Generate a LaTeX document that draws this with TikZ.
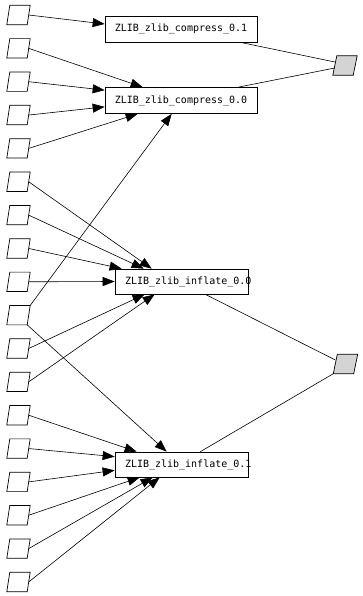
\documentclass[tikz,border=0pt]{standalone}
\usepackage{fontspec}
\newfontfamily\gvmono{DejaVu Sans Mono}
\usetikzlibrary{arrows.meta}
\tikzset{
  leaf/.style={rectangle, inner sep=0pt, minimum width=23pt, minimum height=19pt},
  sink/.style={rectangle, inner sep=0pt, minimum width=24pt, minimum height=19pt},
  paraline/.style={draw=black, line width=0.7pt},
  sinkline/.style={draw=black, fill=black!17, line width=0.7pt},
  cbox/.style={draw=black, line width=0.7pt, rectangle, inner sep=0pt, minimum width=152pt, minimum height=26pt, font=\gvmono\fontsize{10}{12}\selectfont},
  ibox/.style={draw=black, line width=0.7pt, rectangle, inner xsep=10pt, inner ysep=0pt, minimum height=25pt, font=\gvmono\fontsize{10}{12}\selectfont},
  arr/.style={line width=0.6pt, -{Triangle[length=12pt,width=9pt]}},
  plain/.style={line width=0.6pt},
}
\begin{document}
\begin{tikzpicture}[x=1pt,y=-1pt]
\useasboundingbox (0,0) rectangle (362,596);
% left leaves
\foreach \i in {0,...,17} {
  \pgfmathsetmacro\yy{15+33.35*\i}
  \node[leaf] (L\i) at (18.5,\yy) {};
  \path[paraline] ([xshift=3pt]L\i.north west) -- (L\i.north east) -- ([xshift=-3pt]L\i.south east) -- (L\i.south west) -- cycle;
}
% sinks
\node[sink] (R1) at (345,65.5) {};
\node[sink] (R2) at (345.5,364) {};
\foreach \r in {R1,R2} {
  \path[sinkline] ([xshift=4pt]\r.north west) -- (\r.north east) -- ([xshift=-4pt]\r.south east) -- (\r.south west) -- cycle;
}
% boxes
\node[cbox] (c01) at (181,29) {ZLIB\_zlib\_compress\_0.1};
\node[cbox] (c00) at (181,100.5) {ZLIB\_zlib\_compress\_0.0};
\node[ibox] (i00) at (181.5,281.5) {\makebox[113pt][l]{ZLIB\_zlib\_inflate\_0.0}};
\node[ibox] (i01) at (181.5,464.5) {\makebox[113pt][l]{ZLIB\_zlib\_inflate\_0.1}};
% edges into compress
\draw[arr] ([xshift=-1.5pt]L0.east) -- ([yshift=5pt]c01.west);
\draw[arr] ([xshift=-1.5pt]L1.east) -- ([xshift=38pt]c00.north west);
\draw[arr] ([xshift=-1.5pt]L2.east) -- ([yshift=-3pt]c00.north west);
\draw[arr] ([xshift=-1.5pt]L3.east) -- ([yshift=7pt]c00.south west);
\draw[arr] ([xshift=-1.5pt]L4.east) -- ([xshift=33pt]c00.south west);
\draw[arr] (L9.north east) -- ([xshift=67pt]c00.south west);
% edges into inflate_0.0
\draw[arr] ([xshift=-1.5pt]L5.east) -- ([xshift=37pt]i00.north west);
\draw[arr] ([xshift=-1.5pt]L6.east) -- ([xshift=29pt]i00.north west);
\draw[arr] ([xshift=-1.5pt]L7.east) -- ([xshift=7pt]i00.north west);
\draw[arr] ([xshift=-1.5pt]L8.east) -- (i00.west);
\draw[arr] ([xshift=-1.5pt]L10.east) -- ([xshift=30pt]i00.south west);
\draw[arr] ([xshift=-1.5pt]L11.east) -- ([xshift=40pt]i00.south west);
% edges into inflate_0.1
\draw[arr] ([xshift=-3pt]L9.south east) -- ([xshift=52pt]i01.north west);
\draw[arr] ([xshift=-1.5pt]L12.east) -- ([xshift=22pt]i01.north west);
\draw[arr] ([xshift=-1.5pt]L13.east) -- ([yshift=-5pt]i01.north west);
\draw[arr] ([xshift=-1.5pt]L14.east) -- ([yshift=7pt]i01.south west);
\draw[arr] ([xshift=-1.5pt]L15.east) -- ([xshift=25pt]i01.south west);
\draw[arr] ([xshift=-1.5pt]L16.east) -- ([xshift=38pt]i01.south west);
\draw[arr] ([xshift=-1.5pt]L17.east) -- ([xshift=45pt]i01.south west);
% edges to sinks
\draw[plain] ([xshift=-17pt]c01.south east) -- ([xshift=2pt,yshift=3.5pt]R1.west);
\draw[plain] ([xshift=-19pt]c00.north east) -- ([xshift=2pt,yshift=-2.5pt]R1.west);
\draw[plain] ([xshift=-43pt]i00.south east) -- ([xshift=2pt,yshift=4pt]R2.west);
\draw[plain] ([xshift=-48pt]i01.north east) -- (R2.south west);
\end{tikzpicture}
\end{document}
